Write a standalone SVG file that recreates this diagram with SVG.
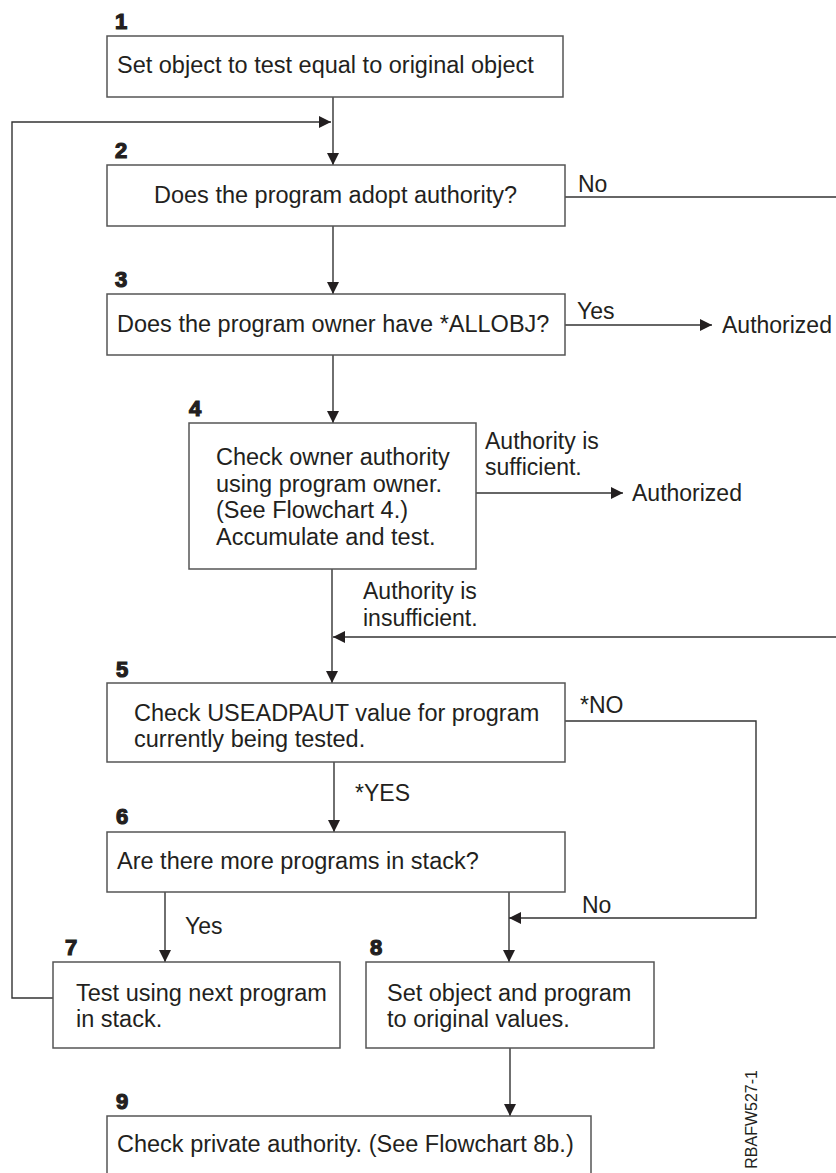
<svg xmlns="http://www.w3.org/2000/svg" width="836" height="1173" viewBox="0 0 836 1173">
<style>
.box{fill:#fff;stroke:#555;stroke-width:1.5}
.t{font-family:"Liberation Sans",Arial,sans-serif;font-size:23.5px;fill:#231f20}
.lbl{font-family:"Liberation Sans",Arial,sans-serif;font-size:23px;fill:#231f20}
.num{font-family:"Liberation Sans",Arial,sans-serif;font-size:22px;font-weight:bold;fill:#231f20;stroke:#231f20;stroke-width:1.2}
.c{fill:none;stroke:#333;stroke-width:1.4}
.fig{font-family:"Liberation Sans",Arial,sans-serif;font-size:16px;fill:#231f20}
</style>
<defs>
<marker id="ah" markerUnits="userSpaceOnUse" markerWidth="12" markerHeight="12" refX="12" refY="6" orient="auto">
<path d="M0,0 L12,6 L0,12 z" fill="#231f20"/>
</marker>
</defs>
<rect width="836" height="1173" fill="#fff"/>
<g id="connectors">
<path class="c" d="M333,97 V165" marker-end="url(#ah)"/>
<path class="c" d="M53,998 H12 V122 H331" marker-end="url(#ah)"/>
<path class="c" d="M565,197 H836"/>
<path class="c" d="M836,637 H333" marker-end="url(#ah)"/>
<path class="c" d="M333,226 V294" marker-end="url(#ah)"/>
<path class="c" d="M565,325 H712" marker-end="url(#ah)"/>
<path class="c" d="M333,355 V423" marker-end="url(#ah)"/>
<path class="c" d="M476,493 H623" marker-end="url(#ah)"/>
<path class="c" d="M332,569 V683" marker-end="url(#ah)"/>
<path class="c" d="M565,721 H756 V918 H509" marker-end="url(#ah)"/>
<path class="c" d="M334,762 V832" marker-end="url(#ah)"/>
<path class="c" d="M165,892 V962" marker-end="url(#ah)"/>
<path class="c" d="M509,892 V962" marker-end="url(#ah)"/>
<path class="c" d="M510,1048 V1116" marker-end="url(#ah)"/>
<text class="lbl" x="578" y="192">No</text>
<text class="lbl" x="577" y="319">Yes</text>
<text class="lbl" x="722" y="333">Authorized</text>
<text class="lbl" x="485" y="449">Authority is</text>
<text class="lbl" x="485" y="475">sufficient.</text>
<text class="lbl" x="632" y="501">Authorized</text>
<text class="lbl" x="363" y="599">Authority is</text>
<text class="lbl" x="363" y="626">insufficient.</text>
<text class="lbl" x="580" y="713">*NO</text>
<text class="lbl" x="355" y="801">*YES</text>
<text class="lbl" x="185" y="934">Yes</text>
<text class="lbl" x="582" y="913">No</text>
</g>
<g id="node1">
<text class="num" x="115" y="29">1</text>
<rect class="box" x="107" y="36" width="456" height="61"/>
<text class="t" x="117" y="73">Set object to test equal to original object</text>
</g>
<g id="node2">
<text class="num" x="115" y="158">2</text>
<rect class="box" x="107" y="165" width="458" height="61"/>
<text class="t" x="154" y="203">Does the program adopt authority?</text>
</g>
<g id="node3">
<text class="num" x="115" y="287">3</text>
<rect class="box" x="107" y="294" width="458" height="61"/>
<text class="t" x="117" y="332">Does the program owner have *ALLOBJ?</text>
</g>
<g id="node4">
<text class="num" x="189" y="416">4</text>
<rect class="box" x="189" y="423" width="287" height="146"/>
<text class="t" x="216" y="465">Check owner authority</text>
<text class="t" x="216" y="492">using program owner.</text>
<text class="t" x="216" y="518">(See Flowchart 4.)</text>
<text class="t" x="216" y="545">Accumulate and test.</text>
</g>
<g id="node5">
<text class="num" x="116" y="677">5</text>
<rect class="box" x="107" y="683" width="458" height="79"/>
<text class="t" x="134" y="721">Check USEADPAUT value for program</text>
<text class="t" x="134" y="747">currently being tested.</text>
</g>
<g id="node6">
<text class="num" x="116" y="824">6</text>
<rect class="box" x="107" y="832" width="458" height="60"/>
<text class="t" x="117" y="869">Are there more programs in stack?</text>
</g>
<g id="node7">
<text class="num" x="65" y="955">7</text>
<rect class="box" x="53" y="962" width="287" height="86"/>
<text class="t" x="76" y="1001">Test using next program</text>
<text class="t" x="76" y="1027">in stack.</text>
</g>
<g id="node8">
<text class="num" x="370" y="955">8</text>
<rect class="box" x="366" y="962" width="288" height="86"/>
<text class="t" x="387" y="1001">Set object and program</text>
<text class="t" x="387" y="1027">to original values.</text>
</g>
<g id="node9">
<text class="num" x="116" y="1109">9</text>
<rect class="box" x="107" y="1116" width="484" height="80"/>
<text class="t" x="117" y="1152">Check private authority. (See Flowchart 8b.)</text>
</g>
<text class="fig" transform="translate(757,1070) rotate(-90)" text-anchor="end">RBAFW527-1</text>
</svg>
